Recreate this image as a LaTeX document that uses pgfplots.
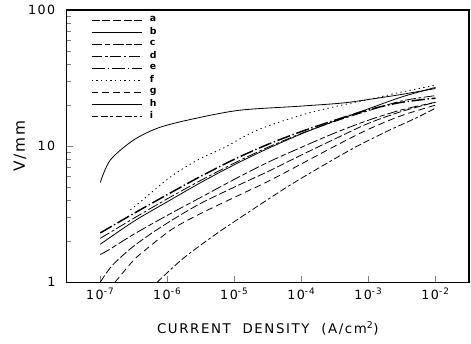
\documentclass[border=0pt]{standalone}
\usepackage{pgfplots}
\pgfplotsset{compat=1.18}
\usepackage{fontspec}
\setmainfont{DejaVu Sans}
\newfontfamily\plotfont[LetterSpace=12]{DejaVu Sans}
\begin{document}
\begin{tikzpicture}
\begin{axis}[
  name=ax,
  scale only axis, width=301.5pt, height=204pt,
  xmin=-7.5, xmax=-1.5, ymode=log, ymin=1, ymax=100,
  xtick={-7,-6,-5,-4,-3,-2},
  xticklabels={10\textsuperscript{-7},10\textsuperscript{-6},10\textsuperscript{-5},10\textsuperscript{-4},10\textsuperscript{-3},10\textsuperscript{-2}},
  ytick={1,10,100}, yticklabels={1,10,100},
  /pgf/number format/assume math mode=true,
  tick align=inside, major tick length=5pt, minor tick length=3.5pt,
  xtick pos=bottom, ytick pos=left,
  tick label style={font=\plotfont\fontsize{9.5}{10}\selectfont},
  yticklabel style={xshift=-5pt},
  xticklabel style={yshift=-1pt},
  xlabel={CURRENT\ \ DENSITY\ \ (A/cm\textsuperscript{2})},
  ylabel={V/mm},
  every axis x label/.style={at={(rel axis cs:0.5,0)}, anchor=center, yshift=-34.5pt, font=\plotfont\fontsize{10}{11}\selectfont},
  every axis y label/.style={at={(rel axis cs:0,0.5)}, xshift=-35pt, rotate=90, anchor=center, font=\plotfont\fontsize{11.5}{12}\selectfont},
  axis line style={line width=1pt},
  every axis plot/.append style={black, line width=0.6pt, smooth},
  legend style={draw=none, fill=none, at={(rel axis cs:0,1)}, anchor=north west,
    xshift=18pt, yshift=-3pt,
    font=\plotfont\fontsize{7}{8}\selectfont\bfseries, row sep=0pt, column sep=5pt, inner sep=0pt,
    nodes={inner sep=0pt, minimum height=9pt}},
  legend image code/.code={\draw[#1] (0cm,0cm) -- (38pt,0cm);},
  legend cell align=left,
]
% a
\addplot[dash pattern=on 6pt off 2pt] coordinates {(-7,1.0) (-6.82,1.33) (-6.52,1.81) (-6.21,2.33) (-5.88,2.96) (-5.5,3.8) (-5,5.0) (-4.5,6.5) (-4,8.6) (-3.5,11.3) (-3,14.7) (-2.5,18) (-2,21)};
\addlegendentry{a}
% b
\addplot[solid] coordinates {(-7,5.4) (-6.85,7.9) (-6.5,11.1) (-6.1,13.8) (-5.5,16.3) (-4.9,18.4) (-4.06,19.6) (-3.4,20.7) (-3,22) (-2.5,24) (-2,26.5)};
\addlegendentry{b}
% c
\addplot[dash pattern=on 8pt off 2pt on 4pt off 2pt] coordinates {(-7,1.6) (-6.88,1.72) (-6.5,2.25) (-6,3.1) (-5.5,4.2) (-5,5.7) (-4.5,7.6) (-4,9.8) (-3.5,12.5) (-3,15.5) (-2.5,18.5) (-2,21)};
\addlegendentry{c}
% d
\addplot[dash pattern=on 8pt off 2pt on 2pt off 2pt] coordinates {(-7,2.1) (-6.5,2.95) (-6,4.1) (-5.5,5.6) (-5,7.5) (-4.5,9.8) (-4,12.4) (-3.5,15.2) (-3,18.2) (-2.5,21.5) (-2,23.5)};
\addlegendentry{d}
% e
\addplot[line width=1.1pt, dash pattern=on 10pt off 2pt on 1pt off 2pt] coordinates {(-7,2.3) (-6.5,3.2) (-6,4.4) (-5.5,6.0) (-5,8.0) (-4.5,10.3) (-4,12.8) (-3.5,15.5) (-3,18.5) (-2.5,21) (-2,22.5)};
\addlegendentry{e}
% f
\addplot[dash pattern=on 1pt off 2.5pt] coordinates {(-6.55,3.4) (-6.4,3.9) (-5.96,5.9) (-5.55,7.9) (-5.16,9.7) (-4.66,13.1) (-4.0,16.9) (-3.5,19.5) (-3,22) (-2.5,25) (-2,28)};
\addlegendentry{f}
% g
\addplot[dash pattern=on 5pt off 3pt] coordinates {(-6.78,1.0) (-6.52,1.42) (-6.37,1.66) (-5.93,2.45) (-5.5,3.2) (-5,4.2) (-4.5,5.5) (-4,7.4) (-3.5,10) (-3,13.3) (-2.5,16.8) (-2,20)};
\addlegendentry{g}
% h
\addplot[solid] coordinates {(-7,1.9) (-6.5,2.8) (-6,3.9) (-5.5,5.4) (-5,7.3) (-4.5,9.6) (-4,12.3) (-3.5,15.3) (-3,18.8) (-2.5,23) (-2,27)};
\addlegendentry{h}
% i
\addplot[dash pattern=on 5pt off 2pt on 5pt off 2pt on 2pt off 2pt] coordinates {(-6.15,1.0) (-5.76,1.5) (-5.25,2.3) (-4.66,3.6) (-4.16,5.2) (-3.72,7.0) (-3.2,9.8) (-2.7,13) (-2.3,16) (-2,19)};
\addlegendentry{i}
\end{axis}
\pgfresetboundingbox
\path ([xshift=-50pt,yshift=-45.75pt]ax.south west) rectangle ([xshift=1.5pt,yshift=7.5pt]ax.north east);
\end{tikzpicture}
\end{document}
